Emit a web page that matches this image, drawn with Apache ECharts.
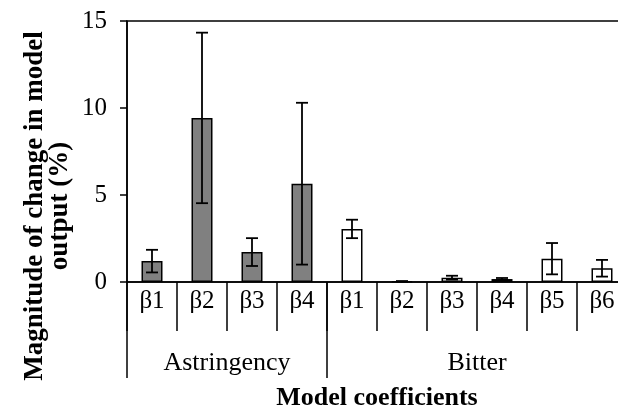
<!DOCTYPE html>
<html><head><meta charset="utf-8">
<script src="https://cdn.jsdelivr.net/npm/echarts@6/dist/echarts.min.js"></script>
<style>html,body{margin:0;padding:0;background:#fff;overflow:hidden}#c{width:618px;height:411px}</style>
</head><body><div id="c"></div>
<script>
var groups = ['Astringency', 'Bitter'];
var astringencyLabels = ['β1', 'β2', 'β3', 'β4'];
var bitterLabels = ['β1', 'β2', 'β3', 'β4', 'β5', 'β6'];
var astringencyValues = [1.2, 9.43, 1.72, 5.65];
var astringencyErrors = [0.65, 4.9, 0.8, 4.65];
var bitterValues = [3.05, 0.04, 0.25, 0.17, 1.34, 0.79];
var bitterErrors = [0.53, 0.01, 0.11, 0.06, 0.9, 0.48];
var yTicks = [0, 5, 10, 15];

var categories = astringencyLabels.concat(bitterLabels);
var values = astringencyValues.concat(bitterValues);
var errors = astringencyErrors.concat(bitterErrors);
var groupSizes = [astringencyLabels.length, bitterLabels.length];
var serif = '"Liberation Serif", "Times New Roman", serif';

var barData = values.map(function (v, i) {
  return { value: v, itemStyle: { color: i < astringencyLabels.length ? '#808080' : '#ffffff' } };
});
var errData = values.map(function (v, i) { return [i, v - errors[i], v + errors[i]]; });

var chart = echarts.init(document.getElementById('c'), null, { renderer: 'canvas' });
chart.setOption({
  animation: false,
  backgroundColor: '#ffffff',
  grid: { left: 127, top: 21, width: 500, height: 261, outerBoundsMode: 'none', containLabel: false, show: true, borderColor: '#000', borderWidth: 1.5, backgroundColor: 'transparent' },
  xAxis: {
    type: 'category', data: categories, boundaryGap: true,
    axisLine: { lineStyle: { color: '#000', width: 1.5 } },
    axisTick: { show: true, interval: 0, length: 49, lineStyle: { color: '#000', width: 1.5 } },
    axisLabel: { interval: 0, color: '#000', fontFamily: serif, fontSize: 25, margin: 7 }
  },
  yAxis: {
    type: 'value', min: yTicks[0], max: yTicks[yTicks.length - 1], interval: 5,
    axisLine: { show: true, lineStyle: { color: '#000', width: 1.5 } },
    axisTick: { show: true, length: 7, lineStyle: { color: '#000', width: 1.5 } },
    axisLabel: { color: '#000', fontFamily: serif, fontSize: 25, margin: 20 },
    splitLine: { show: false }
  },
  series: [
    {
      type: 'bar', data: barData, barWidth: '42%',
      itemStyle: { borderColor: '#000', borderWidth: 1.5 }
    },
    {
      type: 'custom', data: errData,
      renderItem: function (params, api) {
        var x = api.value(0);
        var lo = api.coord([x, api.value(1)]);
        var hi = api.coord([x, api.value(2)]);
        var hw = 6;
        var st = { stroke: '#000', lineWidth: 1.8 };
        return {
          type: 'group', children: [
            { type: 'line', shape: { x1: lo[0], y1: lo[1], x2: hi[0], y2: hi[1] }, style: st },
            { type: 'line', shape: { x1: lo[0] - hw, y1: lo[1], x2: lo[0] + hw, y2: lo[1] }, style: st },
            { type: 'line', shape: { x1: hi[0] - hw, y1: hi[1], x2: hi[0] + hw, y2: hi[1] }, style: st }
          ]
        };
      },
      z: 5
    }
  ]
});

var p0 = chart.convertToPixel({ xAxisIndex: 0 }, 0);
var p1 = chart.convertToPixel({ xAxisIndex: 0 }, 1);
var bw = p1 - p0;
var y0 = chart.convertToPixel({ yAxisIndex: 0 }, 0);
var graphics = [];
var start = 0;
groupSizes.forEach(function (n, g) {
  var xl = p0 - bw / 2 + start * bw;
  var xr = xl + n * bw;
  graphics.push({ type: 'line', shape: { x1: xl, y1: y0, x2: xl, y2: y0 + 96 }, style: { stroke: '#000', lineWidth: 1.5 } });
  graphics.push({ type: 'text', x: (xl + xr) / 2, y: y0 + 81, style: { text: groups[g], font: '26px ' + serif, fill: '#000', textAlign: 'center', textVerticalAlign: 'middle' } });
  start += n;
});
var xEnd = p0 - bw / 2 + start * bw;
graphics.push({ type: 'line', shape: { x1: xEnd, y1: y0, x2: xEnd, y2: y0 + 96 }, style: { stroke: '#000', lineWidth: 1.5 } });
graphics.push({ type: 'text', x: (p0 - bw / 2 + xEnd) / 2, y: y0 + 116, style: { text: 'Model coefficients', font: 'bold 26px ' + serif, fill: '#000', textAlign: 'center', textVerticalAlign: 'middle' } });
graphics.push({ type: 'text', x: 48, y: 206, rotation: Math.PI / 2, style: { text: 'Magnitude of change in model\noutput (%)', font: 'bold 27px ' + serif, lineHeight: 25, fill: '#000', textAlign: 'center', textVerticalAlign: 'middle' } });
chart.setOption({ graphic: graphics });
</script>
</body></html>
